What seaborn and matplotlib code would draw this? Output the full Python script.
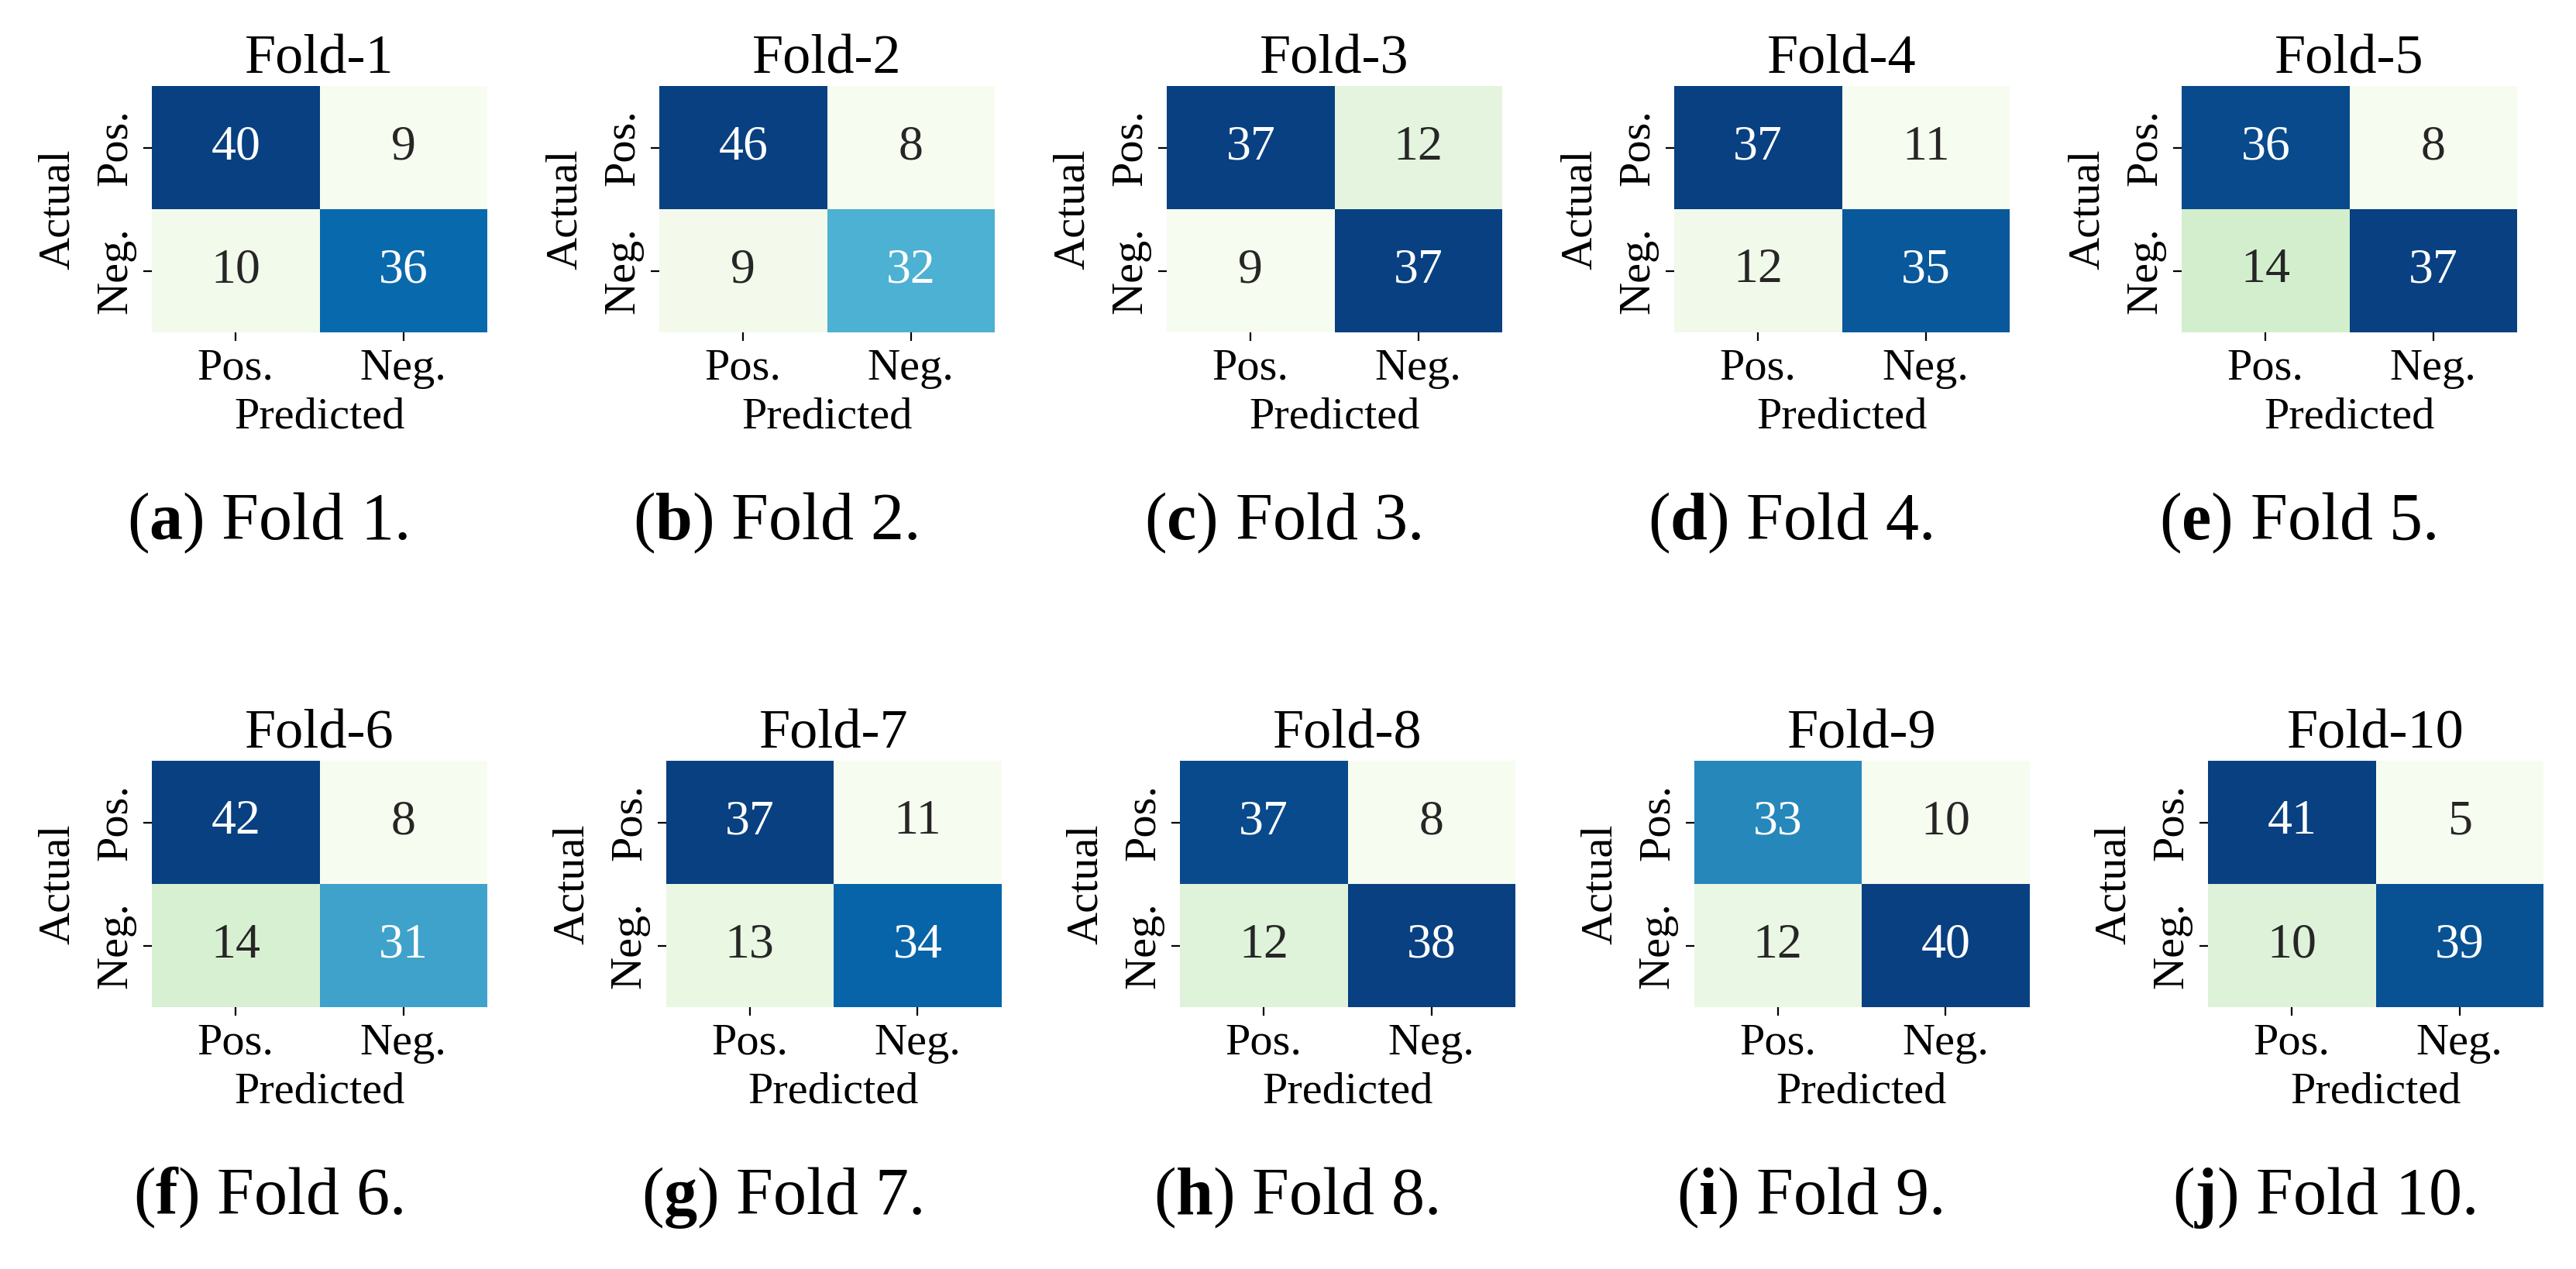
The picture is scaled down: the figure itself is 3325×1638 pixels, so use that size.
import matplotlib

matplotlib.use("Agg")
import matplotlib.pyplot as plt
import pandas as pd
import seaborn as sns

# Данные: матрицы ошибок по 10 фолдам (строки = Actual, столбцы = Predicted)
folds = [f"Fold-{k}" for k in range(1, 11)]
captions = [f"Fold {k}." for k in range(1, 11)]
letters = ["a", "b", "c", "d", "e", "f", "g", "h", "i", "j"]
classes = ["Pos.", "Neg."]
pos_pos = [40, 46, 37, 37, 36, 42, 37, 37, 33, 41]
pos_neg = [9, 8, 12, 11, 8, 8, 11, 8, 10, 5]
neg_pos = [10, 9, 9, 12, 14, 14, 13, 12, 12, 10]
neg_neg = [36, 32, 37, 35, 37, 31, 34, 38, 40, 39]

plt.rcParams["font.family"] = ["Liberation Serif", "DejaVu Serif"]
plt.rcParams["mathtext.fontset"] = "custom"
plt.rcParams["mathtext.rm"] = "Liberation Serif"
plt.rcParams["mathtext.bf"] = "Liberation Serif:bold"

W, H = 3325, 1638
fig = plt.figure(figsize=(W / 200, H / 200), dpi=200)

# раскладка в пикселях
row_top = [111, 982]
row_left = [196, 196]
row_step = [655, 663.5]
box_w, box_h = 433, 318

for i in range(10):
    r, c = divmod(i, 5)
    x0 = row_left[r] + c * row_step[r]
    y0 = row_top[r]
    ax = fig.add_axes([x0 / W, 1 - (y0 + box_h) / H, box_w / W, box_h / H])

    cm = pd.DataFrame(
        [[pos_pos[i], pos_neg[i]], [neg_pos[i], neg_neg[i]]],
        index=classes,
        columns=classes,
    )
    sns.heatmap(
        cm,
        ax=ax,
        cmap="GnBu",
        annot=True,
        fmt="d",
        cbar=False,
        annot_kws={"fontsize": 23},
    )
    ax.set_title(folds[i], fontsize=26, pad=6)
    ax.set_xlabel("Predicted", fontsize=21)
    ax.set_ylabel("Actual", fontsize=21, labelpad=8)
    ax.tick_params(labelsize=21, length=4)
    ax.set_yticklabels(classes, rotation=90, va="center")

    fig.text(
        (x0 + box_w / 2 - 67) / W,
        1 - (y0 + box_h + 267) / H,
        "(" + rf"$\mathbf{{{letters[i]}}}$" + ") " + captions[i],
        ha="center",
        va="baseline",
        fontsize=31,
    )

fig.savefig("out.png", dpi=200)
